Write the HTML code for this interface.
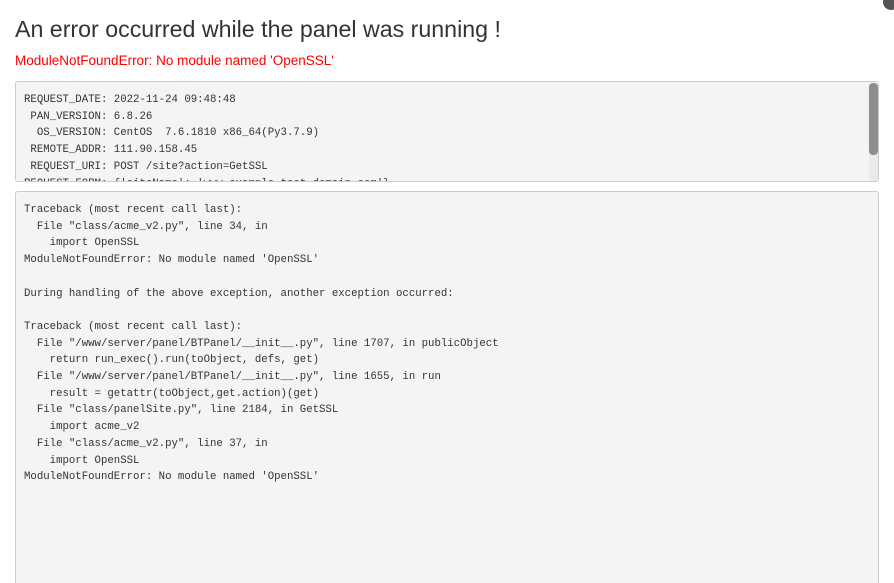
<!DOCTYPE html>
<html><head><meta charset="utf-8"><style>
html,body{margin:0;padding:0;background:#fff;width:894px;height:583px;overflow:hidden;position:relative;font-family:"Liberation Sans",sans-serif}
h1{position:absolute;left:15px;top:14px;margin:0;font-weight:normal;font-size:23.2px;color:#333;line-height:30px}
.err{position:absolute;left:15px;top:52px;font-size:13.5px;color:#f00;line-height:18px}
.box{position:absolute;left:15px;width:862px;background:#f4f4f4;border:1px solid #ccc;border-radius:3px;overflow:hidden}
pre{margin:0;font-family:"Liberation Mono",monospace;font-size:10.7px;line-height:16.7px;color:#333;position:absolute;left:8px}
.sb{position:absolute;left:853px;top:1px;width:9px;height:98px;background:#eaeaea;border-radius:4px}
.th{position:absolute;left:853px;top:1px;width:9px;height:72px;background:#8e8e8e;border-radius:4px}
</style></head><body>
<h1>An error occurred while the panel was running !</h1>
<div class="err">ModuleNotFoundError: No module named 'OpenSSL'</div>
<div class="box" style="top:81px;height:99px">
<pre style="top:10px">REQUEST_DATE: 2022-11-24 09:48:48
 PAN_VERSION: 6.8.26
  OS_VERSION: CentOS  7.6.1810 x86_64(Py3.7.9)
 REMOTE_ADDR: 111.90.158.45
 REQUEST_URI: POST /site?action=GetSSL
REQUEST_FORM: {'siteName': 'www.example.test.domain.com'}</pre>
<div class="sb"></div><div class="th"></div>
</div>
<div class="box" style="top:191px;height:400px">
<pre style="top:10px">Traceback (most recent call last):
  File "class/acme_v2.py", line 34, in
    import OpenSSL
ModuleNotFoundError: No module named 'OpenSSL'

During handling of the above exception, another exception occurred:

Traceback (most recent call last):
  File "/www/server/panel/BTPanel/__init__.py", line 1707, in publicObject
    return run_exec().run(toObject, defs, get)
  File "/www/server/panel/BTPanel/__init__.py", line 1655, in run
    result = getattr(toObject,get.action)(get)
  File "class/panelSite.py", line 2184, in GetSSL
    import acme_v2
  File "class/acme_v2.py", line 37, in
    import OpenSSL
ModuleNotFoundError: No module named 'OpenSSL'</pre>
</div>
<div style="position:absolute;left:883px;top:-6px;width:16px;height:16px;border-radius:50%;background:#555"></div>
</body></html>
